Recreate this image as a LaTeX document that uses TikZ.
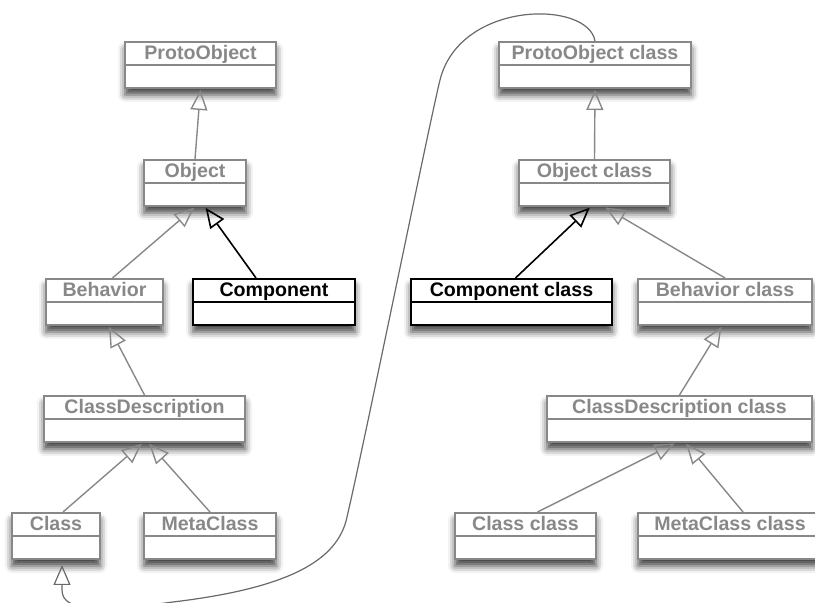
\documentclass[tikz,border=0pt]{standalone}
\usepackage{fontspec}
\setmainfont{Liberation Sans}
\usetikzlibrary{arrows.meta,shadows.blur}
\definecolor{umlgray}{RGB}{136,136,136}
\definecolor{linkgray}{RGB}{105,105,105}

\begin{document}
\begin{tikzpicture}[
  x=0.5pt, y=-0.5pt,
  font=\fontsize{9.8}{12}\selectfont\bfseries,
  >={Triangle[open, length=10pt, width=8.5pt]},
  classbox/.style={draw=#1, text=#1, fill=white, line width=1pt,
                   anchor=north, minimum height=23pt, inner ysep=0pt,
                   text height=9pt, text depth=14pt,
                   blur shadow={shadow xshift=0pt, shadow yshift=-3.5pt,
                                shadow blur radius=3.5pt, shadow opacity=75},
                   append after command={(\tikzlastnode.west)
                     edge[draw=#1, line width=1pt] (\tikzlastnode.east)}},
  gen/.style={->, draw=umlgray, line width=0.7pt, shorten >=0.5pt},
  genb/.style={->, draw=black, line width=0.8pt, shorten >=0.5pt},
  metalink/.style={->, draw=linkgray, line width=0.6pt},
]
\useasboundingbox (0,0) rectangle (815,603);
\clip (0,0) rectangle (815,603);

% --- Left column: class hierarchy ---
\node[classbox=umlgray, minimum width=75.5pt] (po)   at (200.5,41) {ProtoObject};
\node[classbox=umlgray, minimum width=51pt]   (obj)  at (195,159)   {Object};
\node[classbox=umlgray, minimum width=58.5pt] (beh)  at (104.5,278) {Behavior};
\node[classbox=black,   minimum width=81pt]   (comp) at (274,278)   {Component};
\node[classbox=umlgray, minimum width=100.5pt] (cd)  at (144.5,395) {ClassDescription};
\node[classbox=umlgray, minimum width=44pt]   (cls)  at (56,512)    {Class};
\node[classbox=umlgray, minimum width=66pt]   (mc)   at (210,512)   {MetaClass};

% --- Right column: metaclass hierarchy ---
\node[classbox=umlgray, minimum width=96pt]    (poc)   at (595,41)    {ProtoObject class};
\node[classbox=umlgray, minimum width=75.5pt]  (objc)  at (594.5,159) {Object class};
\node[classbox=black,   minimum width=100.5pt] (compc) at (511.5,278) {Component class};
\node[classbox=umlgray, minimum width=87pt]    (behc)  at (725,278)   {Behavior class};
\node[classbox=umlgray, minimum width=132.5pt] (cdc)   at (679.5,395) {ClassDescription class};
\node[classbox=umlgray, minimum width=70.5pt]  (clsc)  at (525.5,512) {Class class};
\node[classbox=umlgray, minimum width=92pt]    (mcc)   at (730,512)   {MetaClass class};

% --- Generalisation arrows, left ---
\draw[gen]  (obj.north) -- (po.south);
\draw[gen]  ([xshift=4pt]beh.north) -- (obj.south);
\draw[genb] ([xshift=-9pt]comp.north) -- ([xshift=5pt]obj.south);
\draw[gen]  (cd.north) -- ([xshift=2pt]beh.south);
\draw[gen]  ([xshift=3.5pt]cls.north) -- ([xshift=-1pt]cd.south);
\draw[gen]  (mc.north) -- ([xshift=2pt]cd.south);

% --- Generalisation arrows, right ---
\draw[gen]  (objc.north) -- (poc.south);
\draw[genb] ([xshift=2pt]compc.north) -- ([xshift=-2pt]objc.south);
\draw[gen]  (behc.north) -- ([xshift=5pt]objc.south);
\draw[gen]  (cdc.north) -- ([xshift=-1.5pt]behc.south);
\draw[gen]  ([xshift=6pt]clsc.north) -- ([xshift=-2pt]cdc.south);
\draw[gen]  ([xshift=6.5pt]mcc.north) -- ([xshift=3pt]cdc.south);

% --- ProtoObject class inherits from Class ---
\draw[metalink, shorten >=2.5pt] (poc.north)
  .. controls (588,0) and (460,0) .. (440,80)
  .. controls (430,120) and (365,440) .. (347,517)
  .. controls (338,560) and (290,588) .. (173,602)
  .. controls (100,612) and (62,612) .. (62,590)
  -- ([xshift=3pt]cls.south);

\end{tikzpicture}
\end{document}
